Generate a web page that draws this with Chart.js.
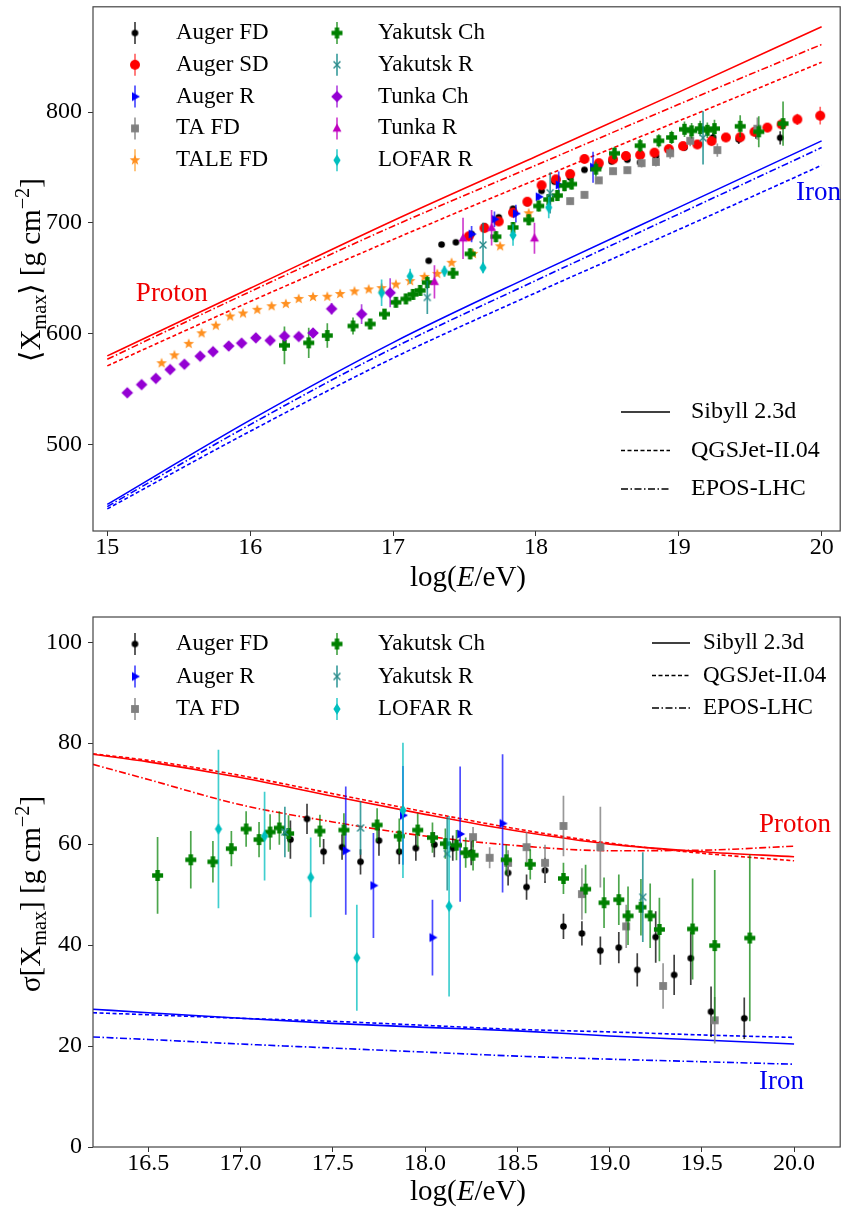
<!DOCTYPE html>
<html>
<head>
<meta charset="utf-8">
<script src="https://cdn.jsdelivr.net/npm/chart.js@4"></script>
<style>
  body { margin: 0; background: #fff; }
  canvas { position: absolute; left: 0; }
</style>
</head>
<body>
<canvas id="meanChart" width="847" height="600" style="top:0"></canvas>
<canvas id="sigmaChart" width="847" height="609" style="top:600px"></canvas>
<script>
// ---------- <Xmax> data (upper panel) ----------
const augerFdE    = [17.25, 17.34, 17.44, 17.55, 17.64, 17.74, 17.84, 17.94, 18.04, 18.13, 18.24, 18.34, 18.44, 18.53, 18.64, 18.73, 18.84, 18.94, 19.04, 19.14, 19.24, 19.42, 19.54, 19.71];
const augerFdMean = [665.8, 680.5, 682.5, 690, 697, 705.1, 712.8, 718, 728.9, 737.2, 741, 747.9, 751, 755.4, 757, 754.6, 760, 765, 768, 771, 777.1, 775.3, 781, 776.8];
const augerFdMeanErr = [2, 2, 2, 2, 2, 2, 2, 2, 2, 2, 2, 2, 2, 2, 2, 2, 3, 3, 3, 3, 4, 4, 5, 6];

const augerSdE    = [17.53, 17.64, 17.74, 17.84, 17.94, 18.04, 18.14, 18.24, 18.34, 18.44, 18.54, 18.63, 18.73, 18.83, 18.93, 19.03, 19.13, 19.23, 19.33, 19.43, 19.53, 19.62, 19.72, 19.83, 19.99];
const augerSdMean = [687.9, 695.3, 701.3, 709.3, 719.1, 734.0, 739.3, 744.1, 757.7, 753.9, 757.4, 760.4, 761.3, 763.4, 766.6, 769.3, 770.8, 773.8, 777.1, 777.3, 782.2, 786.0, 788.9, 793.4, 796.7];
const augerSdMeanErr = [3, 3, 3, 3, 3, 3, 3, 3, 3, 3, 3, 3, 3, 3, 3, 3, 3, 3, 3, 3, 3, 4, 4, 5, 8];

const augerRE    = [17.55, 17.71, 17.86, 18.02, 18.16, 18.40];
const augerRMean = [689.9, 703.3, 708.4, 723.6, 734.3, 750.3];
const augerRMeanErr = [7.4, 7, 8, 3, 12, 14];

const taFdE    = [18.24, 18.34, 18.44, 18.54, 18.64, 18.74, 18.84, 18.94, 19.08, 19.27, 19.55];
const taFdMean = [719.7, 725.3, 738.4, 746.7, 747.6, 753.9, 755.0, 762.8, 774.1, 765.7, 785];
const taFdMeanErr = [3, 3, 3, 3, 3, 4, 4, 5, 5, 6, 10];

const taleE    = [15.38, 15.47, 15.57, 15.66, 15.76, 15.86, 15.95, 16.05, 16.15, 16.25, 16.34, 16.44, 16.54, 16.63, 16.73, 16.83, 16.92, 17.02, 17.12, 17.22, 17.31, 17.41, 17.56, 17.75, 17.95];
const taleMean = [573.4, 580.5, 590.9, 600.4, 607.3, 615.6, 618.3, 621.6, 624.8, 626.9, 631.4, 633.2, 633.4, 635.9, 638.2, 640.0, 641.2, 644.4, 647.5, 651.3, 654.0, 664.0, 672.1, 678.9, 708.7];
const taleMeanErr = [1, 1, 1, 1, 1, 1, 1, 1, 1, 1, 1, 1, 1, 1, 1, 1, 1, 1, 1, 1, 1, 1, 2, 2, 2];

const yakChE    = [16.24, 16.41, 16.54, 16.72, 16.84, 16.94, 17.02, 17.09, 17.14, 17.19, 17.24, 17.42, 17.54, 17.72, 17.84, 17.95, 18.02, 18.09, 18.15, 18.20, 18.25, 18.42, 18.55, 18.73, 18.86, 18.95, 19.04, 19.09, 19.15, 19.20, 19.25, 19.43, 19.56, 19.73];
const yakChMean = [589.5, 591.8, 598.4, 607.0, 608.8, 617.7, 628.4, 631.4, 635.5, 639.1, 646.2, 654.6, 672.1, 687.6, 695.9, 702.8, 715.3, 721.1, 724.7, 733.6, 735.1, 748.5, 762.8, 769.7, 774.1, 777.1, 784.5, 783.1, 785.1, 783.6, 785.1, 787.2, 782.2, 789.6];
const yakChMeanErr = [17, 13.7, 11, 7.7, 4.5, 4.5, 4, 4, 4, 4, 6, 5, 5, 5, 5, 5, 5, 5, 5, 5, 5, 6.7, 6, 6, 6, 6, 7, 7, 7, 7, 8, 10, 14, 20];

const yakRE    = [17.24, 17.63, 18.10, 19.17];
const yakRMean = [632.8, 680.1, 727.1, 776.8];
const yakRMeanErr = [15, 20, 18.6, 24];

const tunkaChE    = [15.14, 15.24, 15.34, 15.44, 15.54, 15.65, 15.74, 15.85, 15.94, 16.04, 16.14, 16.24, 16.34, 16.44, 16.57, 16.78, 16.98];
const tunkaChMean = [546.7, 554.1, 559.7, 567.7, 572.5, 579.7, 583.8, 588.9, 591.5, 596.3, 593.9, 597.8, 597.5, 600.7, 622.5, 617.7, 637.0];
const tunkaChMeanErr = [1, 1, 1, 1, 1, 1, 1, 1, 1, 1, 1, 1, 1, 1, 5.2, 9, 13];

const tunkaRE    = [17.29, 17.49, 17.69, 17.99];
const tunkaRMean = [646.9, 686.1, 695.6, 686.1];
const tunkaRMeanErr = [15, 18.6, 16, 14];

const lofarE    = [16.92, 17.12, 17.36, 17.63, 17.84, 18.09];
const lofarMean = [637.0, 651.9, 656.4, 659.6, 689.0, 714.0];
const lofarMeanErr = [12, 6.7, 5, 5, 9.7, 9.7];

// model predictions, upper panel
const modelMeanE = [15, 16, 17, 18, 19, 20];
const protonSibyllMean = [580, 641, 702, 760, 818, 877];
const protonQgsjetMean = [571, 629, 685, 739, 792, 845];
const protonEposMean   = [577, 638, 697, 752, 807, 861];
const ironSibyllMean   = [446, 522, 592, 654, 714, 774];
const ironQgsjetMean   = [442, 512, 578, 637, 694, 752];
const ironEposMean     = [444, 518, 587, 648, 708, 768];

// ---------- sigma(Xmax) data (lower panel) ----------
const augerFdSigE  = [17.27, 17.36, 17.45, 17.55, 17.65, 17.75, 17.86, 17.95, 18.05, 18.15, 18.25, 18.45, 18.55, 18.65, 18.75, 18.85, 18.95, 19.05, 19.15, 19.25, 19.35, 19.44, 19.55, 19.73];
const augerFdSigma = [60.9, 65.0, 58.5, 59.4, 56.5, 60.7, 58.5, 59.2, 59.9, 59.2, 58.3, 54.3, 51.5, 54.8, 43.7, 42.3, 38.9, 39.5, 35.1, 41.6, 34.1, 37.4, 26.8, 25.5];
const augerFdSigmaErr = [3.8, 3, 2.5, 2.5, 2.5, 3, 2.5, 2.5, 2.5, 2.5, 2.5, 2.5, 2.5, 2.5, 2.5, 2.4, 2.8, 3.1, 3.3, 5.1, 4, 5.3, 5, 4.1];

const augerRSigE  = [17.57, 17.72, 17.88, 18.04, 18.19, 18.42];
const augerRSigma = [58.7, 51.8, 65.7, 41.5, 62.0, 64.1];
const augerRSigmaErr = [12.7, 10.4, 9.8, 7.5, 13.4, 13.7];

const taFdSigE  = [18.26, 18.35, 18.45, 18.55, 18.65, 18.75, 18.85, 18.95, 19.09, 19.29, 19.57];
const taFdSigma = [61.4, 57.3, 56.3, 59.4, 56.3, 63.6, 50.1, 59.4, 43.7, 31.9, 25.1];
const taFdSigmaErr = [2, 2.1, 2.5, 3, 3.6, 6, 5.1, 8, 4.3, 4.5, 4.6];

const yakChSigE  = [16.55, 16.73, 16.85, 16.95, 17.03, 17.10, 17.16, 17.21, 17.26, 17.43, 17.56, 17.74, 17.86, 17.96, 18.04, 18.11, 18.17, 18.22, 18.26, 18.44, 18.57, 18.75, 18.87, 18.97, 19.05, 19.10, 19.17, 19.22, 19.27, 19.45, 19.57, 19.76];
const yakChSigma = [53.8, 56.9, 56.5, 59.1, 63.0, 60.9, 62.4, 63.2, 62.1, 62.6, 62.8, 63.8, 61.6, 62.8, 61.3, 60.1, 59.8, 58.3, 57.8, 56.9, 56.0, 53.2, 51.1, 48.4, 49.0, 45.8, 47.5, 45.8, 43.1, 43.2, 39.9, 41.4];
const yakChSigmaErr = [7.6, 5.7, 4.1, 3.5, 3.5, 3.5, 3.5, 3.3, 3.6, 3.2, 3.3, 3.3, 3.5, 3.3, 3, 3, 3, 3, 3, 3, 3, 3.1, 4.8, 5, 5, 5.8, 5.6, 6.4, 6.3, 10, 15, 16.5];

const yakRSigE  = [17.24, 17.65, 18.12, 19.18];
const yakRSigma = [62.4, 63.2, 58.1, 49.5];
const yakRSigmaErr = [5, 5.3, 7.3, 8.9];

const lofarSigE  = [16.88, 17.13, 17.38, 17.63, 17.88, 18.13];
const lofarSigma = [63.0, 61.6, 53.4, 37.5, 66.7, 47.7];
const lofarSigmaErr = [15.7, 8.8, 7.9, 10.5, 13.4, 17.9];

// model predictions, lower panel
const modelSigE = [16.2, 16.5, 17.0, 17.5, 18.0, 18.5, 19.0, 19.5, 20.0];
const protonSibyllSig = [77.8, 76.3, 73.2, 69.5, 65.9, 62.6, 60.0, 58.5, 57.5];
const protonQgsjetSig = [77.9, 76.6, 73.6, 70.0, 66.4, 63.0, 60.2, 58.2, 56.7];
const protonEposSig   = [75.8, 72.8, 67.8, 64.4, 61.6, 59.7, 58.7, 58.8, 59.6];
const ironSibyllSig   = [27.3, 26.6, 25.5, 24.5, 23.7, 23.0, 22.0, 21.2, 20.4];
const ironQgsjetSig   = [26.6, 26.2, 25.5, 24.9, 24.1, 23.3, 22.8, 22.2, 21.7];
const ironEposSig     = [21.8, 21.3, 20.4, 19.6, 18.8, 18.0, 17.4, 16.9, 16.4];

// ticks
const meanXTicks = [15, 16, 17, 18, 19, 20];
const meanYTicks = [500, 600, 700, 800];
const sigXTicks = [16.5, 17.0, 17.5, 18.0, 18.5, 19.0, 19.5, 20.0];
const sigYTicks = [0, 20, 40, 60, 80, 100];

const modelNames = ['Sibyll 2.3d', 'QGSJet-II.04', 'EPOS-LHC'];

// ---------- styles ----------
const FONT = '"Liberation Serif", "DejaVu Serif", serif';
Chart.defaults.font.family = FONT;
Chart.defaults.font.size = 24;
Chart.defaults.color = '#000';

const styles = {
  'Auger FD':   { color: '#000000', err: 'rgba(0,0,0,0.75)',       shape: 'circle', r: 3.3 },
  'Auger SD':   { color: '#ff0000', err: 'rgba(255,0,0,0.6)',      shape: 'circle', r: 5 },
  'Auger R':    { color: '#0000ff', err: 'rgba(0,0,255,0.7)',      shape: 'triRight', r: 5 },
  'TA FD':      { color: '#808080', err: 'rgba(128,128,128,0.8)',  shape: 'square', r: 4.6 },
  'TALE FD':    { color: '#ff9020', err: 'rgba(255,140,0,0.6)',    shape: 'star', r: 5.6 },
  'Yakutsk Ch': { color: '#008000', err: 'rgba(0,128,0,0.7)',      shape: 'plus', r: 5.5 },
  'Yakutsk R':  { color: '#2a8a8a', err: 'rgba(0,128,128,0.75)',   shape: 'x', r: 4.6 },
  'Tunka Ch':   { color: '#9400d3', err: 'rgba(148,0,211,0.7)',    shape: 'diamond', r: 5.8 },
  'Tunka R':    { color: '#bf00bf', err: 'rgba(191,0,191,0.75)',   shape: 'triUp', r: 5 },
  'LOFAR R':    { color: '#00bfbf', err: 'rgba(0,191,191,0.75)',   shape: 'thinDiamond', r: 5.8 }
};

function makeMarker(shape, color, r) {
  const s = Math.ceil(r * 2 + 4);
  const c = document.createElement('canvas');
  c.width = s; c.height = s;
  const g = c.getContext('2d');
  g.translate(s / 2, s / 2);
  g.fillStyle = color;
  g.strokeStyle = color;
  g.beginPath();
  if (shape === 'circle') {
    g.arc(0, 0, r, 0, 2 * Math.PI); g.fill();
  } else if (shape === 'square') {
    g.fillRect(-r * 0.85, -r * 0.85, r * 1.7, r * 1.7);
  } else if (shape === 'triRight') {
    g.moveTo(r, 0); g.lineTo(-r * 0.6, -r * 0.9); g.lineTo(-r * 0.6, r * 0.9); g.closePath(); g.fill();
  } else if (shape === 'triUp') {
    g.moveTo(0, -r); g.lineTo(r * 0.9, r * 0.65); g.lineTo(-r * 0.9, r * 0.65); g.closePath(); g.fill();
  } else if (shape === 'diamond') {
    g.moveTo(0, -r); g.lineTo(r, 0); g.lineTo(0, r); g.lineTo(-r, 0); g.closePath(); g.fill();
  } else if (shape === 'thinDiamond') {
    g.moveTo(0, -r); g.lineTo(r * 0.62, 0); g.lineTo(0, r); g.lineTo(-r * 0.62, 0); g.closePath(); g.fill();
  } else if (shape === 'x') {
    g.lineWidth = 1.4;
    g.moveTo(-r * 0.75, -r * 0.75); g.lineTo(r * 0.75, r * 0.75);
    g.moveTo(r * 0.75, -r * 0.75); g.lineTo(-r * 0.75, r * 0.75);
    g.stroke();
  } else if (shape === 'star') {
    for (let i = 0; i < 10; i++) {
      const a = -Math.PI / 2 + i * Math.PI / 5;
      const rr = i % 2 ? r * 0.42 : r;
      g.lineTo(rr * Math.cos(a), rr * Math.sin(a));
    }
    g.closePath(); g.fill();
  } else if (shape === 'plus') {
    const w = r * 0.4;
    g.fillRect(-r, -w, 2 * r, 2 * w);
    g.fillRect(-w, -r, 2 * w, 2 * r);
  }
  return c;
}

function series(label, xs, ys, errs, idx) {
  const st = styles[label];
  return {
    label: label,
    data: xs.map((x, i) => ({ x: x, y: ys[i] })),
    errs: errs,
    errColor: st.err,
    pointStyle: makeMarker(st.shape, st.color, st.r),
    pointRadius: st.r,
    showLine: false,
    order: 50 - idx
  };
}

const dashes = [[], [4, 2.5], [7, 2.5, 1.5, 2.5]];
function model(label, xs, ys, color, k) {
  return {
    label: label,
    data: xs.map((x, i) => ({ x: x, y: ys[i] })),
    showLine: true,
    borderColor: color,
    borderWidth: 1.6,
    borderDash: dashes[k],
    pointRadius: 0,
    cubicInterpolationMode: 'monotone',
    fill: false,
    order: 100
  };
}

// ---------- plugins ----------
const errorBars = {
  id: 'errorBars',
  beforeDatasetDraw(chart, args) {
    const ds = chart.data.datasets[args.index];
    if (!ds.errs) return;
    const { ctx, chartArea: a } = chart;
    const xs = chart.scales.x, ys = chart.scales.y;
    ctx.save();
    ctx.beginPath();
    ctx.rect(a.left, a.top, a.right - a.left, a.bottom - a.top);
    ctx.clip();
    ctx.strokeStyle = ds.errColor;
    ctx.lineWidth = 1.7;
    ds.data.forEach((p, i) => {
      const e = ds.errs[i];
      if (!e) return;
      const px = xs.getPixelForValue(p.x);
      ctx.beginPath();
      ctx.moveTo(px, ys.getPixelForValue(p.y - e));
      ctx.lineTo(px, ys.getPixelForValue(p.y + e));
      ctx.stroke();
    });
    ctx.restore();
  }
};

function drawRich(ctx, parts, cx, cy, size, rotate) {
  ctx.save();
  ctx.translate(cx, cy);
  if (rotate) ctx.rotate(-Math.PI / 2);
  const fontFor = p => (p.it ? 'italic ' : '') + ((p.sub || p.sup) ? size * 0.7 : size) + 'px ' + FONT;
  let total = 0;
  parts.forEach(p => { ctx.font = fontFor(p); p.w = ctx.measureText(p.t).width; total += p.w; });
  let x = -total / 2;
  ctx.fillStyle = '#000';
  ctx.textBaseline = 'alphabetic';
  parts.forEach(p => {
    ctx.font = fontFor(p);
    const dy = p.sub ? size * 0.22 : (p.sup ? -size * 0.38 : 0);
    ctx.fillText(p.t, x, size * 0.34 + dy);
    x += p.w;
  });
  ctx.restore();
}

const decorations = {
  id: 'decorations',
  afterDraw(chart, args, o) {
    const { ctx, chartArea: a } = chart;
    const xs = chart.scales.x, ys = chart.scales.y;
    ctx.save();
    // frame
    ctx.strokeStyle = '#444';
    ctx.lineWidth = 1.2;
    ctx.strokeRect(a.left, a.top, a.right - a.left, a.bottom - a.top);

    // axis titles
    drawRich(ctx, o.xTitle, o.xTitlePos[0], o.xTitlePos[1], 29, false);
    drawRich(ctx, o.yTitle, o.yTitlePos[0], o.yTitlePos[1], 29, true);

    // Proton / Iron labels (data coordinates)
    ctx.textBaseline = 'middle';
    ctx.textAlign = 'left';
    o.notes.forEach(n => {
      ctx.font = '27px ' + FONT;
      ctx.fillStyle = n.color;
      ctx.fillText(n.text, xs.getPixelForValue(n.x), ys.getPixelForValue(n.y));
    });

    // data legend
    ctx.font = o.legendFont + 'px ' + FONT;
    ctx.fillStyle = '#000';
    o.legend.forEach((label, i) => {
      const col = Math.floor(i / o.legendRows), row = i % o.legendRows;
      const mx = o.legendX[col], my = o.legendY + row * o.legendDy;
      const ds = chart.data.datasets.find(d => d.label === label);
      ctx.strokeStyle = ds.errColor;
      ctx.lineWidth = 1.7;
      ctx.beginPath(); ctx.moveTo(mx, my - 11); ctx.lineTo(mx, my + 11); ctx.stroke();
      const m = ds.pointStyle;
      ctx.drawImage(m, mx - m.width / 2, my - m.height / 2);
      ctx.fillStyle = '#000';
      ctx.fillText(label, mx + 41, my);
    });

    // model legend
    ctx.font = o.modelFont + 'px ' + FONT;
    modelNames.forEach((name, k) => {
      const y = o.modelY + k * o.modelDy;
      ctx.strokeStyle = '#000';
      ctx.lineWidth = 1.6;
      ctx.setLineDash(dashes[k]);
      ctx.beginPath(); ctx.moveTo(o.modelX[0], y); ctx.lineTo(o.modelX[1], y); ctx.stroke();
      ctx.setLineDash([]);
      ctx.fillStyle = '#000';
      ctx.fillText(name, o.modelX[2], y);
    });
    ctx.restore();
  }
};

function axes(xMin, xMax, xTicks, xFmt, yMin, yMax, yTicks, xHeight) {
  const common = {
    type: 'linear',
    border: { display: false },
    grid: { drawOnChartArea: false, drawTicks: true, tickLength: 5, color: '#333', lineWidth: 1 }
  };
  return {
    x: Object.assign({}, common, {
      min: xMin, max: xMax,
      ticks: { padding: 0, font: { size: 24, lineHeight: 1 }, callback: v => xFmt(v) },
      afterBuildTicks: s => { s.ticks = xTicks.map(v => ({ value: v })); },
      afterFit: s => { s.height = xHeight; s.paddingLeft = 0; s.paddingRight = 0; }
    }),
    y: Object.assign({}, common, {
      min: yMin, max: yMax,
      ticks: { padding: 6, font: { size: 24, lineHeight: 1 }, callback: v => String(v) },
      afterBuildTicks: s => { s.ticks = yTicks.map(v => ({ value: v })); },
      afterFit: s => { s.width = 93; s.paddingTop = 0; s.paddingBottom = 0; }
    })
  };
}

const commonOpts = {
  responsive: false,
  animation: false,
  events: [],
  plugins: { legend: { display: false }, tooltip: { enabled: false } }
};

// ---------- upper panel ----------
new Chart(document.getElementById('meanChart'), {
  type: 'scatter',
  data: {
    datasets: [
      series('Auger FD', augerFdE, augerFdMean, augerFdMeanErr, 0),
      series('Auger SD', augerSdE, augerSdMean, augerSdMeanErr, 1),
      series('Auger R', augerRE, augerRMean, augerRMeanErr, 2),
      series('TA FD', taFdE, taFdMean, taFdMeanErr, 3),
      series('TALE FD', taleE, taleMean, taleMeanErr, 4),
      series('Yakutsk Ch', yakChE, yakChMean, yakChMeanErr, 5),
      series('Yakutsk R', yakRE, yakRMean, yakRMeanErr, 6),
      series('Tunka Ch', tunkaChE, tunkaChMean, tunkaChMeanErr, 7),
      series('Tunka R', tunkaRE, tunkaRMean, tunkaRMeanErr, 8),
      series('LOFAR R', lofarE, lofarMean, lofarMeanErr, 9),
      model('p Sibyll', modelMeanE, protonSibyllMean, '#ff0000', 0),
      model('p QGSJet', modelMeanE, protonQgsjetMean, '#ff0000', 1),
      model('p EPOS', modelMeanE, protonEposMean, '#ff0000', 2),
      model('Fe Sibyll', modelMeanE, ironSibyllMean, '#0000ff', 0),
      model('Fe QGSJet', modelMeanE, ironQgsjetMean, '#0000ff', 1),
      model('Fe EPOS', modelMeanE, ironEposMean, '#0000ff', 2)
    ]
  },
  options: Object.assign({}, commonOpts, {
    layout: { padding: { left: 0, right: 2, top: 2, bottom: 0 } },
    scales: axes(14.9, 20.13, meanXTicks, v => String(v), 422, 895, meanYTicks, 69),
    plugins: Object.assign({}, commonOpts.plugins, {
      decorations: {
        xTitle: [{ t: 'log(' }, { t: 'E', it: true }, { t: '/eV)' }],
        xTitlePos: [468, 576],
        yTitle: [{ t: '\u27E8X' }, { t: 'max', sub: true }, { t: '\u27E9 [g cm' }, { t: '\u22122', sup: true }, { t: ']' }],
        yTitlePos: [30, 270],
        notes: [
          { text: 'Proton', x: 15.2, y: 636, color: '#ee0000' },
          { text: 'Iron', x: 19.82, y: 727, color: '#0000ee' }
        ],
        legend: ['Auger FD', 'Auger SD', 'Auger R', 'TA FD', 'TALE FD', 'Yakutsk Ch', 'Yakutsk R', 'Tunka Ch', 'Tunka R', 'LOFAR R'],
        legendRows: 5, legendX: [135, 337], legendY: 33, legendDy: 31.8, legendFont: 23,
        modelX: [621, 670, 691], modelY: 412, modelDy: 38.5, modelFont: 24
      }
    })
  }),
  plugins: [errorBars, decorations]
});

// ---------- lower panel ----------
new Chart(document.getElementById('sigmaChart'), {
  type: 'scatter',
  data: {
    datasets: [
      series('Auger FD', augerFdSigE, augerFdSigma, augerFdSigmaErr, 0),
      series('Auger R', augerRSigE, augerRSigma, augerRSigmaErr, 1),
      series('TA FD', taFdSigE, taFdSigma, taFdSigmaErr, 2),
      series('Yakutsk Ch', yakChSigE, yakChSigma, yakChSigmaErr, 3),
      series('Yakutsk R', yakRSigE, yakRSigma, yakRSigmaErr, 4),
      series('LOFAR R', lofarSigE, lofarSigma, lofarSigmaErr, 5),
      model('p Sibyll', modelSigE, protonSibyllSig, '#ff0000', 0),
      model('p QGSJet', modelSigE, protonQgsjetSig, '#ff0000', 1),
      model('p EPOS', modelSigE, protonEposSig, '#ff0000', 2),
      model('Fe Sibyll', modelSigE, ironSibyllSig, '#0000ff', 0),
      model('Fe QGSJet', modelSigE, ironQgsjetSig, '#0000ff', 1),
      model('Fe EPOS', modelSigE, ironEposSig, '#0000ff', 2)
    ]
  },
  options: Object.assign({}, commonOpts, {
    layout: { padding: { left: 0, right: 2, top: 17, bottom: 0 } },
    scales: axes(16.2, 20.25, sigXTicks, v => v.toFixed(1), 0, 105, sigYTicks, 62),
    plugins: Object.assign({}, commonOpts.plugins, {
      decorations: {
        xTitle: [{ t: 'log(' }, { t: 'E', it: true }, { t: '/eV)' }],
        xTitlePos: [468, 590],
        yTitle: [{ t: '\u03C3[X' }, { t: 'max', sub: true }, { t: '] [g cm' }, { t: '\u22122', sup: true }, { t: ']' }],
        yTitlePos: [30, 294],
        notes: [
          { text: 'Proton', x: 19.81, y: 63.9, color: '#ee0000' },
          { text: 'Iron', x: 19.81, y: 12.9, color: '#0000ee' }
        ],
        legend: ['Auger FD', 'Auger R', 'TA FD', 'Yakutsk Ch', 'Yakutsk R', 'LOFAR R'],
        legendRows: 3, legendX: [135, 337], legendY: 44, legendDy: 32.5, legendFont: 23,
        modelX: [652, 690, 703], modelY: 43, modelDy: 32.5, modelFont: 23
      }
    })
  }),
  plugins: [errorBars, decorations]
});
</script>
</body>
</html>
